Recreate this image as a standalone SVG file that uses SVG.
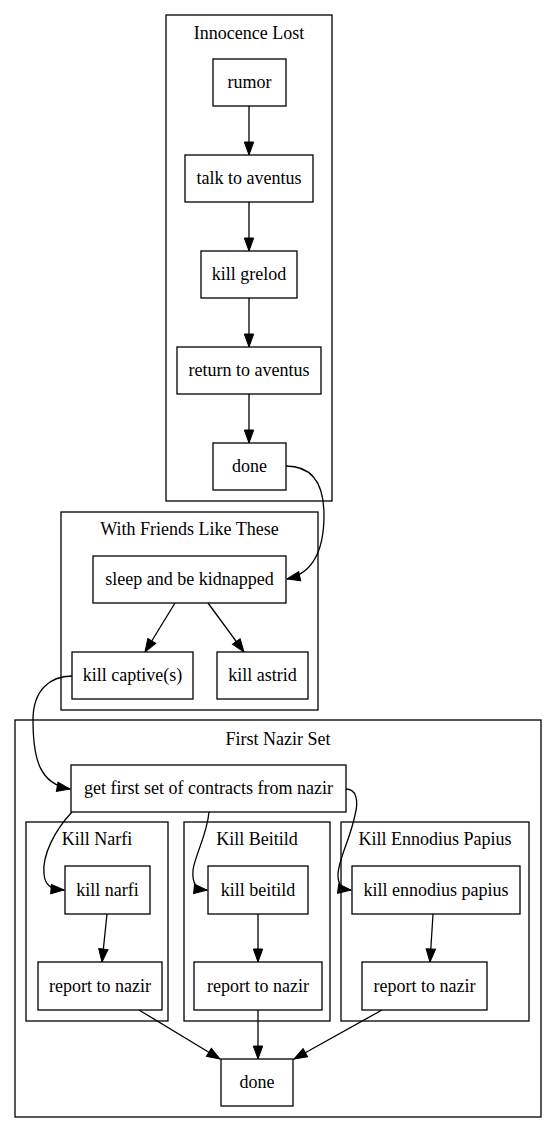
<svg xmlns="http://www.w3.org/2000/svg" width="557" height="1133" viewBox="0 0 557 1133">
<style>
text{font-family:"Liberation Serif","DejaVu Serif",serif;font-size:18px;fill:#000;text-anchor:middle}
.cl{fill:none;stroke:#000;stroke-width:1.3}
.nd{fill:#fff;stroke:#000;stroke-width:1.3}
.e{fill:none;stroke:#000;stroke-width:1.3;marker-end:url(#ah)}
</style>
<defs>
<marker id="ah" markerUnits="userSpaceOnUse" markerWidth="14" markerHeight="10" refX="13" refY="4.7" orient="auto" overflow="visible">
<path d="M0,0 L13,4.7 L0,9.4 z" fill="#000" stroke="#000" stroke-width="1"/>
</marker>
</defs>
<rect width="557" height="1133" fill="#fff"/>
<g id="clusters" font-family="Liberation Serif, DejaVu Serif, serif">
<g id="cluster_innocence"><rect class="cl" x="166" y="15" width="166" height="486"/><text x="249" y="39">Innocence Lost</text></g>
<g id="cluster_friends"><rect class="cl" x="61" y="512" width="257" height="198"/><text x="189.5" y="535">With Friends Like These</text></g>
<g id="cluster_nazir"><rect class="cl" x="15" y="720" width="526" height="397"/><text x="278" y="745">First Nazir Set</text></g>
<g id="cluster_narfi"><rect class="cl" x="26" y="822" width="142" height="199"/><text x="97" y="845">Kill Narfi</text></g>
<g id="cluster_beitild"><rect class="cl" x="184" y="822" width="146" height="199"/><text x="257" y="845">Kill Beitild</text></g>
<g id="cluster_ennodius"><rect class="cl" x="341" y="822" width="188" height="199"/><text x="435" y="845">Kill Ennodius Papius</text></g>
</g>
<g id="edges">
<path class="e" d="M249,106 L249,155"/>
<path class="e" d="M249,202 L249,251"/>
<path class="e" d="M249,298 L249,347"/>
<path class="e" d="M249,394 L249,443"/>
<path class="e" d="M286,466 C310,466 324,480 324,515 C324,555 310,574 287,579"/>
<path class="e" d="M175,603 L145,652"/>
<path class="e" d="M208,603 L244,652"/>
<path class="e" d="M72,676 C50,676 33,690 33,720 C33,760 40,784 70,789"/>
<path class="e" d="M72,812 C55,830 42,855 44,874 C45,885 50,889 64,890"/>
<path class="e" d="M209,812 C207,835 195,855 193,870 C192,884 196,889 207,890"/>
<path class="e" d="M346,789 C356,789 359,800 355,815 C350,840 338,860 338,875 C338,885 342,889 351,890"/>
<path class="e" d="M107,914 L102,962"/>
<path class="e" d="M258,914 L258,962"/>
<path class="e" d="M433,914 L430,962"/>
<path class="e" d="M139,1010 L220,1059"/>
<path class="e" d="M258,1010 L258,1059"/>
<path class="e" d="M382,1010 L294,1059"/>
</g>
<g id="nodes" font-family="Liberation Serif, DejaVu Serif, serif">
<g id="rumor"><rect class="nd" x="213" y="59" width="73" height="47"/><text x="249.5" y="88">rumor</text></g>
<g id="talk"><rect class="nd" x="185" y="155" width="128" height="47"/><text x="249" y="184">talk to aventus</text></g>
<g id="grelod"><rect class="nd" x="201" y="251" width="96" height="47"/><text x="249" y="280">kill grelod</text></g>
<g id="return"><rect class="nd" x="177" y="347" width="144" height="47"/><text x="249" y="376">return to aventus</text></g>
<g id="done1"><rect class="nd" x="213" y="443" width="73" height="47"/><text x="249.5" y="472">done</text></g>
<g id="sleep"><rect class="nd" x="93" y="556" width="193" height="47"/><text x="189.5" y="585">sleep and be kidnapped</text></g>
<g id="captives"><rect class="nd" x="72" y="652" width="121" height="47"/><text x="132.5" y="681">kill captive(s)</text></g>
<g id="astrid"><rect class="nd" x="217" y="652" width="91" height="47"/><text x="262.5" y="681">kill astrid</text></g>
<g id="getfirst"><rect class="nd" x="71" y="765" width="275" height="47"/><text x="208.5" y="794">get first set of contracts from nazir</text></g>
<g id="narfi"><rect class="nd" x="65" y="866" width="85" height="48"/><text x="107.5" y="896">kill narfi</text></g>
<g id="beitild"><rect class="nd" x="208" y="866" width="100" height="48"/><text x="258" y="896">kill beitild</text></g>
<g id="ennodius"><rect class="nd" x="352" y="866" width="168" height="48"/><text x="436" y="896">kill ennodius papius</text></g>
<g id="report1"><rect class="nd" x="38" y="962" width="124" height="48"/><text x="100" y="992">report to nazir</text></g>
<g id="report2"><rect class="nd" x="194" y="962" width="128" height="48"/><text x="258" y="992">report to nazir</text></g>
<g id="report3"><rect class="nd" x="362" y="962" width="125" height="48"/><text x="424.5" y="992">report to nazir</text></g>
<g id="done2"><rect class="nd" x="221" y="1059" width="72" height="47"/><text x="257" y="1088">done</text></g>
</g>
</svg>
